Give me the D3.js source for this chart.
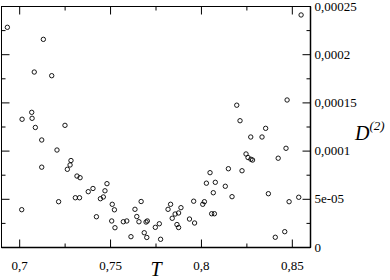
<!DOCTYPE html>
<html>
<head>
<meta charset="utf-8">
<script src="https://cdn.jsdelivr.net/npm/d3@7"></script>
<style>
  body { margin: 0; background: #fff; }
</style>
</head>
<body>
<div id="chart"></div>
<script>
// T values of the measured points
var tValues = [
  0.6935, 0.7133, 0.7083, 0.7179, 0.7069, 0.7016, 0.7071, 0.7089, 0.7252, 0.7124,
  0.7208, 0.7285, 0.7280, 0.7265, 0.7124, 0.7318, 0.7335, 0.7406, 0.7380, 0.7217,
  0.7309, 0.7332, 0.7014, 0.7425, 0.7447, 0.7463, 0.7472, 0.7483, 0.7512, 0.7524,
  0.7509, 0.7527, 0.7573, 0.7592, 0.7615, 0.7637, 0.7647, 0.7659, 0.7671, 0.7688,
  0.7702, 0.7698, 0.7705, 0.7749, 0.7771, 0.7778, 0.7819, 0.7833, 0.7842, 0.7858,
  0.7877, 0.7890, 0.7868, 0.7877, 0.7937, 0.7960, 0.7965, 0.8010, 0.8019, 0.8059,
  0.8074, 0.8068, 0.8030, 0.8050, 0.8079, 0.8134, 0.8151, 0.8171, 0.8226, 0.8248,
  0.8259, 0.8275, 0.8284, 0.8197, 0.8215, 0.8274, 0.8336, 0.8356, 0.8425, 0.8468,
  0.8474, 0.8551, 0.8371, 0.8485, 0.8538, 0.8409, 0.8461
];
// D(2) values, same order
var dValues = [
  2.279e-4, 2.154e-4, 1.815e-4, 1.777e-4, 1.397e-4, 1.325e-4, 1.335e-4, 1.240e-4, 1.262e-4, 1.110e-4,
  1.006e-4, 8.97e-5, 8.51e-5, 8.06e-5, 8.28e-5, 7.36e-5, 7.19e-5, 6.07e-5, 5.74e-5, 4.70e-5,
  5.11e-5, 5.11e-5, 3.87e-5, 3.14e-5, 5.01e-5, 5.19e-5, 5.83e-5, 6.57e-5, 4.43e-5, 3.86e-5,
  2.70e-5, 2.00e-5, 2.62e-5, 2.70e-5, 1.07e-5, 3.91e-5, 3.16e-5, 2.62e-5, 4.72e-5, 1.48e-5,
  9.9e-6, 2.59e-5, 2.70e-5, 2.04e-5, 2.41e-5, 8.0e-6, 3.91e-5, 4.43e-5, 2.98e-5, 3.42e-5,
  3.53e-5, 4.08e-5, 2.33e-5, 2.02e-5, 2.90e-5, 4.75e-5, 2.49e-5, 4.43e-5, 4.70e-5, 3.45e-5,
  3.45e-5, 5.63e-5, 6.62e-5, 7.71e-5, 6.71e-5, 6.30e-5, 8.12e-5, 5.22e-5, 7.91e-5, 9.65e-5,
  9.28e-5, 9.10e-5, 9.02e-5, 1.471e-4, 1.310e-4, 1.141e-4, 1.141e-4, 1.231e-4, 9.21e-5, 1.024e-4,
  1.525e-4, 2.407e-4, 5.53e-5, 4.70e-5, 5.16e-5, 1.01e-5, 1.59e-5
];

var xMajor = [0.7, 0.75, 0.8, 0.85];
var xMinor = [0.725, 0.775, 0.825];
var xTickLabels = ["0,7", "0,75", "0,8", "0,85"];
var yMajor = [0, 5e-5, 1e-4, 1.5e-4, 2e-4, 2.5e-4];
var yMinor = [2.5e-5, 7.5e-5, 1.25e-4, 1.75e-4, 2.25e-4];
var yTickLabels = ["0", "5e-05", "0,0001", "0,00015", "0,0002", "0,00025"];

var serif = '"Liberation Serif", "DejaVu Serif", serif';
var width = 390, height = 280;
var margin = {top: 6, right: 80, bottom: 33, left: 1};

var svg = d3.select('#chart')
  .append('svg')
  .attr('width', width)
  .attr('height', height)
  .attr('font-family', serif);

var x = d3.scaleLinear()
  .domain([0.69, 0.86])
  .range([margin.left, width - margin.right]);
var y = d3.scaleLinear()
  .domain([0, 2.5e-4])
  .range([height - margin.bottom, margin.top]);

var points = tValues.map((t, i) => ({t: t, d: dValues[i]}));

// frame
svg.append('rect')
  .attr('x', x.range()[0] + 0.5)
  .attr('y', y.range()[1] + 0.5)
  .attr('width', x.range()[1] - x.range()[0])
  .attr('height', y.range()[0] - y.range()[1])
  .attr('fill', 'none')
  .attr('stroke', '#000')
  .attr('stroke-width', 1);

function styleAxis(g) {
  g.attr('font-family', serif).attr('font-size', 13);
  g.select('.domain').remove();
  g.selectAll('line').attr('stroke', '#000');
  g.selectAll('text')
    .attr('fill', '#000')
    .attr('font-family', serif)
    .style('font-size', '13px');
}

var bottomY = y.range()[0] + 0.5;
var topY = y.range()[1] + 0.5;
var rightX = x.range()[1] + 0.5;
var leftX = x.range()[0] + 0.5;

// bottom axis with labels
svg.append('g')
  .attr('transform', 'translate(0,' + bottomY + ')')
  .call(d3.axisBottom(x).tickValues(xMajor).tickSize(-8).tickPadding(13)
    .tickFormat((d, i) => xTickLabels[i]))
  .call(styleAxis);
svg.append('g')
  .attr('transform', 'translate(0,' + bottomY + ')')
  .call(d3.axisBottom(x).tickValues(xMinor).tickSize(-4).tickFormat(''))
  .call(styleAxis);
// top ticks
svg.append('g')
  .attr('transform', 'translate(0,' + topY + ')')
  .call(d3.axisTop(x).tickValues(xMajor).tickSize(-8).tickFormat(''))
  .call(styleAxis);
svg.append('g')
  .attr('transform', 'translate(0,' + topY + ')')
  .call(d3.axisTop(x).tickValues(xMinor).tickSize(-4).tickFormat(''))
  .call(styleAxis);

// right axis with labels
svg.append('g')
  .attr('transform', 'translate(' + rightX + ',0)')
  .call(d3.axisRight(y).tickValues(yMajor).tickSize(-8).tickPadding(4)
    .tickFormat((d, i) => yTickLabels[i]))
  .call(styleAxis);
svg.append('g')
  .attr('transform', 'translate(' + rightX + ',0)')
  .call(d3.axisRight(y).tickValues(yMinor).tickSize(-4).tickFormat(''))
  .call(styleAxis);
// left ticks
svg.append('g')
  .attr('transform', 'translate(' + leftX + ',0)')
  .call(d3.axisLeft(y).tickValues(yMajor).tickSize(-8).tickFormat(''))
  .call(styleAxis);
svg.append('g')
  .attr('transform', 'translate(' + leftX + ',0)')
  .call(d3.axisLeft(y).tickValues(yMinor).tickSize(-4).tickFormat(''))
  .call(styleAxis);

// right and bottom axis lines a bit heavier
svg.append('line')
  .attr('x1', rightX).attr('x2', rightX)
  .attr('y1', topY).attr('y2', bottomY)
  .attr('stroke', '#000').attr('stroke-width', 1.5);
svg.append('line')
  .attr('x1', leftX).attr('x2', rightX)
  .attr('y1', bottomY).attr('y2', bottomY)
  .attr('stroke', '#000').attr('stroke-width', 1.5);

// data points
svg.append('g')
  .selectAll('circle')
  .data(points)
  .enter()
  .append('circle')
  .attr('cx', d => x(d.t))
  .attr('cy', d => y(d.d))
  .attr('r', 2.2)
  .attr('fill', 'none')
  .attr('stroke', '#000')
  .attr('stroke-width', 0.9);

// axis titles
svg.append('text')
  .attr('x', 156)
  .attr('y', 276)
  .attr('text-anchor', 'middle')
  .attr('font-family', serif)
  .style('font-size', '20px')
  .style('font-style', 'italic')
  .text('T');

var dLabel = svg.append('text')
  .attr('x', 355)
  .attr('y', 140)
  .attr('font-family', serif)
  .style('font-size', '20px')
  .style('font-style', 'italic');
dLabel.append('tspan').text('D');
dLabel.append('tspan')
  .attr('dy', -10)
  .style('font-size', '13px')
  .text('(2)');
</script>
</body>
</html>
